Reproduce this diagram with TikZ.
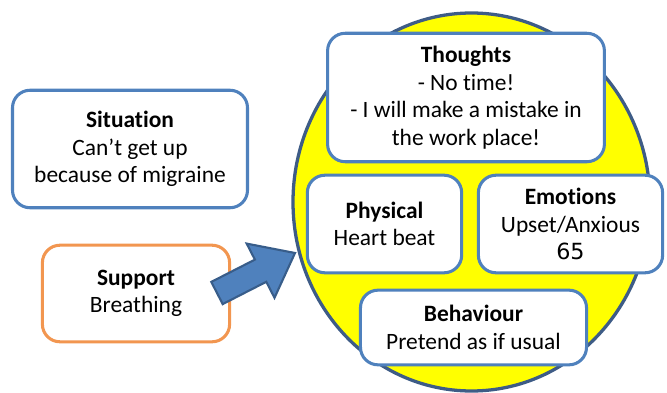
\documentclass[tikz,border=0pt]{standalone}
\usepackage{fontspec}
\setmainfont{Carlito}[Ligatures=CommonOff]
\newfontfamily\numfont{DejaVu Sans}
\usepackage{xcolor}
\usetikzlibrary{math}
\definecolor{boxblue}{RGB}{79,129,189}
\definecolor{arrowblue}{RGB}{56,93,138}
\definecolor{ringblue}{RGB}{62,92,134}
\definecolor{boxorange}{RGB}{242,150,80}
\definecolor{bgyellow}{RGB}{255,255,0}

\tikzset{
  card/.style={draw=boxblue, line width=2.6pt, fill=white, rounded corners=15pt,
    align=center, font=\fontsize{20}{23.5}\selectfont, inner sep=0pt},
  supportcard/.style={card, draw=boxorange},
}

\begin{document}
\begin{tikzpicture}[x=0.03cm, y=-0.03cm]
\tikzmath{
\w=0.85;
}
\useasboundingbox (0,0) rectangle (667,393);

% big yellow circle behind
\draw[ringblue, line width=2.8pt, fill=bgyellow] (471.5,202) ellipse (178.5 and 189);

%%%%%%%%%%   left side
\node[card, minimum width=236*\w pt, minimum height=118*\w pt] (situation) at (130,149)
  {\textbf{Situation}\\Can’t get up\\because of migraine};
\node[supportcard, minimum width=188*\w pt, minimum height=97*\w pt] (support) at (136,293.5)
  {\textbf{Support}\\Breathing};

% fat arrow
\coordinate (arrtail) at (217,293);
\coordinate (arrtip) at (295,253);
\draw[arrowblue, line width=1.8pt, fill=boxblue, line join=miter]
  (211.3,281.9) -- (254.9,259.6) -- (246.7,243.6) -- (arrtip)
  -- (274.5,297.8) -- (266.3,281.8) -- (222.7,304.1) -- cycle;

%%%%%%%%%%   inside the circle
\node[card, minimum width=278*\w pt, minimum height=129*\w pt] (thoughts) at (466,97.5)
  {\textbf{Thoughts}\\- No time!\\- I will make a mistake in\\the work place!};
\node[card, minimum width=155*\w pt, minimum height=98*\w pt] (physical) at (384.5,224)
  {\textbf{Physical}\\Heart beat};
\node[card, minimum width=185*\w pt, minimum height=98*\w pt] (emotions) at (570.5,224)
  {\textbf{Emotions}\\Upset/Anxious\\\numfont\fontsize{19}{23.5}\selectfont 65};
\node[card, minimum width=227*\w pt, minimum height=75*\w pt] (behaviour) at (473.5,327.5)
  {\textbf{Behaviour}\\Pretend as if usual};
\end{tikzpicture}
\end{document}
